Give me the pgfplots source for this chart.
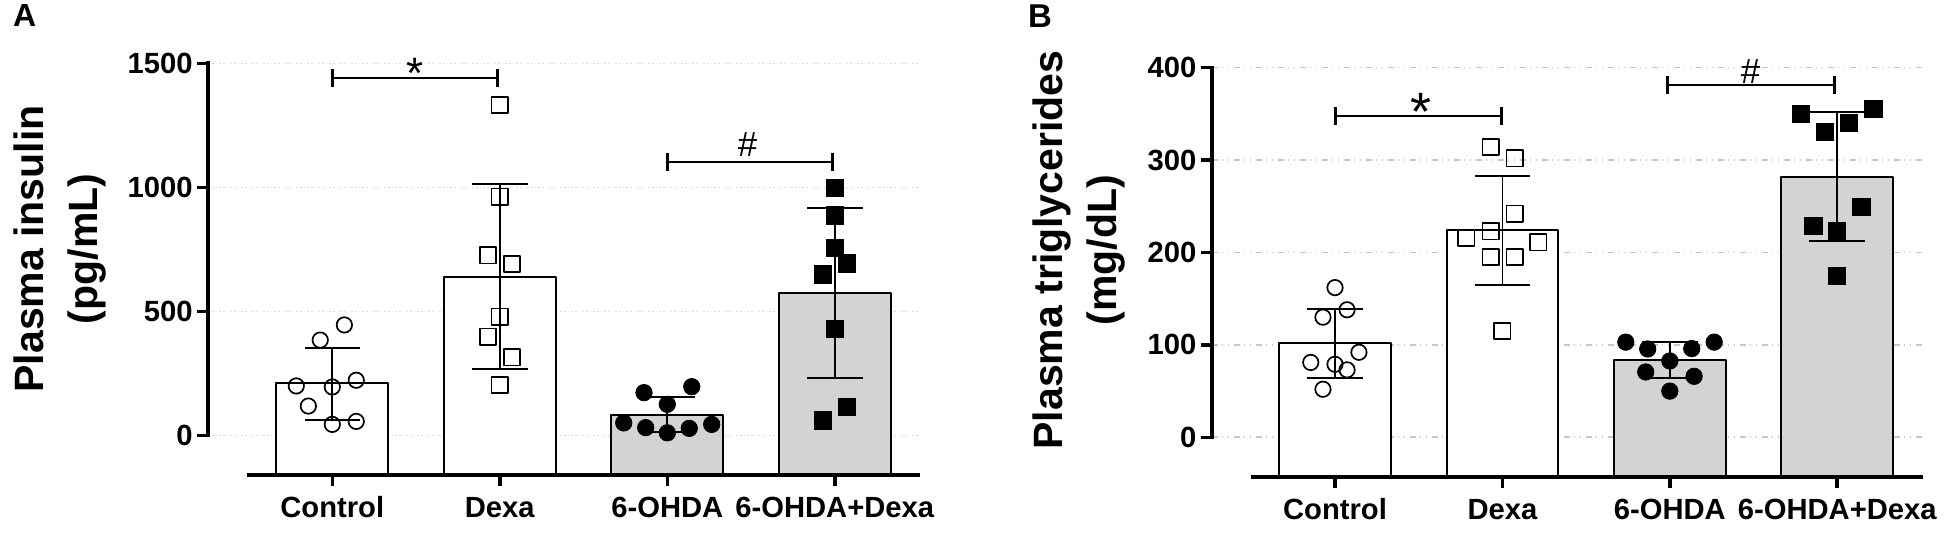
\documentclass[border=0pt]{standalone}
\usepackage{fontspec}
\setmainfont{Liberation Sans}
\usepackage{pgfplots}
\pgfplotsset{compat=1.18}
\definecolor{barg}{HTML}{D3D3D3}
\pgfplotsset{
  panel/.style={
    scale only axis, clip=false,
    axis x line*=bottom, axis y line*=left,
    axis line style={draw=none},
    tick align=outside, major tick length=5.5pt,
    tick style={black,line width=1.75pt},
    xtick={0,1,2,3},
    xticklabels={Control,Dexa,6-OHDA,6-OHDA+Dexa},
    /pgf/number format/assume math mode=true,
    /pgf/number format/1000 sep={},
    tick label style={font=\fontsize{14.6pt}{16pt}\selectfont\bfseries,inner sep=0pt},
    yticklabel style={xshift=-2pt},
    xticklabel style={anchor=base,yshift=-15.7pt},
    ymajorgrids,
    ylabel style={font=\fontsize{20.5pt}{27pt}\selectfont\bfseries,align=center,anchor=center},
  },
  spine/.style={black,line width=2pt,line cap=rect,forget plot},
  barw/.style={draw=black,line width=1pt,fill=white,line join=round,forget plot},
  barf/.style={draw=black,line width=1pt,fill=barg,line join=round,forget plot},
  err/.style={draw=none,mark=none,forget plot,error bars/.cd,y dir=both,y explicit,
    error bar style={black,line width=.9pt},
    error mark options={black,rotate=90,mark size=13.9pt,line width=.9pt}},
  oc/.style={only marks,mark=o,mark size=3.85pt,mark options={line width=.85pt,black,fill=none},forget plot},
  os/.style={only marks,mark=square,mark size=4.1pt,mark options={line width=.85pt,black,fill=none,line join=round},forget plot},
  fc/.style={only marks,mark=*,mark size=4.1pt,mark options={black,fill=black},forget plot},
  fs/.style={only marks,mark=square*,mark size=4.3pt,mark options={black,fill=black,line width=0pt},forget plot},
  brk/.style={black,line width=1.15pt,forget plot},
  cap/.style={black,line width=1.5pt,forget plot},
}
\begin{document}
\begin{tikzpicture}[x=1pt,y=1pt]
\path[use as bounding box] (0,0) rectangle (975,272);
\node[anchor=base west,inner sep=0pt,font=\fontsize{16pt}{18pt}\selectfont\bfseries] at (6.3,258.5) {A};
\node[anchor=base west,inner sep=0pt,font=\fontsize{16.5pt}{18pt}\selectfont\bfseries] at (513.8,258) {B};
% ---------- Panel A
\begin{axis}[panel, at={(104pt,34.5pt)}, anchor=south west, width=356pt, height=205.85pt,
  xmin=-0.7421, xmax=3.5087, ymin=-160, ymax=1500, ytick={0,500,1000,1500},
  grid style={color=black!14,line width=.5pt,dash pattern=on 1pt off 1.2pt on .6pt off 2.7pt},
  ylabel={Plasma insulin\\(pg/mL)},
  ylabel style={at={(axis description cs:-0.2072,0.549)}}]
\addplot[barw] coordinates {(-.3334,-160)(-.3334,210)(.3334,210)(.3334,-160)} -- cycle;
\addplot[barw] coordinates {(.6666,-160)(.6666,640)(1.3334,640)(1.3334,-160)} -- cycle;
\addplot[barf] coordinates {(1.6666,-160)(1.6666,82)(2.3334,82)(2.3334,-160)} -- cycle;
\addplot[barf] coordinates {(2.6666,-160)(2.6666,573)(3.3334,573)(3.3334,-160)} -- cycle;
\addplot[spine] coordinates {(-0.7421,0)(-0.7421,1500)};
\addplot[spine,line cap=butt] coordinates {(-0.511,-160)(3.5087,-160)};
\addplot[err] coordinates {(0,208) +- (0,145) (1,640) +- (0,372) (2,85) +- (0,71) (3,573) +- (0,343)};
\addplot[oc] coordinates {(-.215,199)(0,195)(.143,222)(-.143,118)(0,44)(.143,56)(-.072,384)(.072,445)};
\addplot[os] coordinates {(1,962)(.929,726)(1.073,691)(1,478)(.929,398)(1.073,314)(1,203)(1,1332)};
\addplot[fc] coordinates {(1.861,172)(2.146,196)(2,125)(1.740,50)(1.871,31)(2,10)(2.131,28)(2.265,44)};
\addplot[fs] coordinates {(3,996)(3,886)(3,754)(3.073,693)(2.93,648)(3,429)(3.073,114)(2.93,60)};
\addplot[brk] coordinates {(0,1441)(.9875,1441)};
\addplot[cap] coordinates {(0,1405)(0,1477)};
\addplot[cap] coordinates {(.9875,1405)(.9875,1477)};
\addplot[brk] coordinates {(2,1102)(2.989,1102)};
\addplot[cap] coordinates {(2,1066)(2,1138)};
\addplot[cap] coordinates {(2.989,1066)(2.989,1138)};
\node[anchor=base,inner sep=0pt,font=\fontsize{22pt}{24pt}\selectfont,yshift=-11.4pt] at (axis cs:.494,1489) {*};
\node[anchor=base,inner sep=0pt,font=\fontsize{17.5pt}{20pt}\selectfont,yshift=-6.3pt] at (axis cs:2.48,1173) {\#};
\end{axis}
% ---------- Panel B
\begin{axis}[panel, at={(605.85pt,33.65pt)}, anchor=south west, width=355.65pt, height=204.5pt,
  xmin=-0.7366, xmax=3.5125, ymin=-42.64, ymax=400, ytick={0,100,200,300,400},
  grid style={color=black!22,line width=.8pt,dash pattern=on 3pt off 2pt on .8pt off 2.2pt on .8pt off 2.2pt},
  ylabel={Plasma triglycerides\\(mg/dL)},
  ylabel style={at={(axis description cs:-0.187,0.554)}}]
\addplot[barw] coordinates {(-.3334,-42.64)(-.3334,101.7)(.3334,101.7)(.3334,-42.64)} -- cycle;
\addplot[barw] coordinates {(.6666,-42.64)(.6666,224)(1.3334,224)(1.3334,-42.64)} -- cycle;
\addplot[barf] coordinates {(1.6666,-42.64)(1.6666,83.7)(2.3334,83.7)(2.3334,-42.64)} -- cycle;
\addplot[barf] coordinates {(2.6666,-42.64)(2.6666,282)(3.3334,282)(3.3334,-42.64)} -- cycle;
\addplot[spine] coordinates {(-0.7366,0)(-0.7366,400)};
\addplot[spine,line cap=butt] coordinates {(-0.5,-42.64)(3.5125,-42.64)};
\addplot[err] coordinates {(0,101.7) +- (0,37.5) (1,224) +- (0,59) (2,83.7) +- (0,19.3) (3,282) +- (0,70)};
\addplot[oc] coordinates {(.143,92)(-.145,81)(0,79)(.072,73)(-.072,52)(-.072,130)(.072,138)(0,162)};
\addplot[os] coordinates {(.93,314)(1.073,302)(1.073,242)(.93,223)(.784,216)(1.215,211)(.93,195)(1.073,195)(1,115)};
\addplot[fc] coordinates {(1.737,103)(2.265,103)(1.868,95.6)(2.131,96)(2,82.6)(1.856,70.7)(2.145,66)(2,50)};
\addplot[fs] coordinates {(2.783,350)(3.217,355)(3.071,340.5)(2.927,330)(3.145,249)(2.858,228.7)(3,223.6)(3,174.6)};
\addplot[brk] coordinates {(0,348)(.996,348)};
\addplot[cap] coordinates {(0,338.3)(0,357.7)};
\addplot[cap] coordinates {(.996,338.3)(.996,357.7)};
\addplot[brk] coordinates {(1.987,381.3)(2.981,381.3)};
\addplot[cap] coordinates {(1.987,371.6)(1.987,391)};
\addplot[cap] coordinates {(2.981,371.6)(2.981,391)};
\node[anchor=base,inner sep=0pt,font=\fontsize{27pt}{29pt}\selectfont,yshift=-13.7pt] at (axis cs:.512,361.8) {*};
\node[anchor=base,inner sep=0pt,font=\fontsize{17.5pt}{20pt}\selectfont,yshift=-6.3pt] at (axis cs:2.483,396.8) {\#};
\end{axis}
\end{tikzpicture}
\end{document}
